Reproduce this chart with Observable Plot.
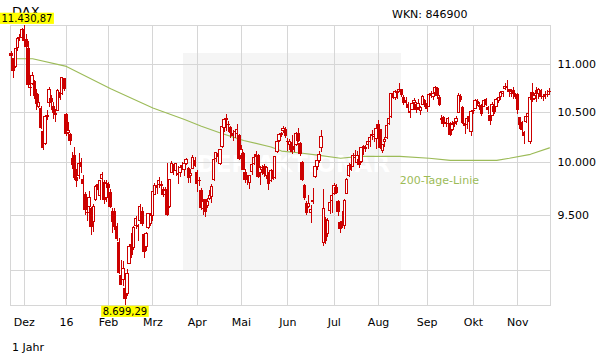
<!DOCTYPE html>
<html><head><meta charset="utf-8">
<script src="https://cdn.jsdelivr.net/npm/d3@7"></script>
<script src="https://cdn.jsdelivr.net/npm/@observablehq/plot@0.6"></script>
<style>body{margin:0;background:#fff;} svg{display:block}</style>
</head><body><div id="chart"></div>
<script>
// DAX daily OHLC, trading days 23.11.2015 – 22.11.2016 (index 0..255)
const open = [
11120,11060,10980,11180,11290,11290,
11380,11270,11170,10760,10800,10820,10690,10560,10540,10300,10180,10460,10600,10640,10560,10480,10520,10700,10690,10850,
10480,10290,10270,10040,10060,9850,9870,10000,9830,9690,9520,9580,9560,9440,9640,9780,9680,9840,9800,9660,
9780,9710,9530,9530,9390,9250,8950,8920,8840,8800,9060,9230,9200,9400,9400,9450,9530,9320,9210,9380,9420,
9490,9690,9770,9780,9780,9740,9690,9740,9580,9900,9960,9920,9880,9900,9970,9930,9990,9940,9870,9940,10020,
9900,9820,9730,9560,9640,9590,9650,9670,9830,10040,10080,9990,10150,10340,10420,10370,10340,10280,10300,10280,10260,
10060,10080,9900,9850,9800,9910,9990,10070,10060,9900,9930,9960,9870,9880,9820,9920,9850,10100,10210,10270,10310,10320,
10200,10170,10190,10150,10170,10280,10180,10000,9770,9600,9580,9520,9620,9860,9960,10020,10140,9250,9460,9330,9540,9630,
9700,9760,9620,9430,9440,9400,9700,9870,9980,9960,10050,10000,10030,10010,10150,10130,10170,10200,10260,10250,10230,
10370,10320,10110,10200,10240,10380,10450,10690,10650,10700,10730,10730,10650,10620,10580,10510,10530,10600,10580,10550,10520,10580,10620,
10590,10560,10690,10660,10700,10740,10650,10420,10440,10390,10380,10380,10320,10380,10400,10500,10660,10550,10380,10370,10450,10300,
10520,10540,10610,10560,10570,10560,10630,10550,10470,10470,10560,10560,10620,10660,10690,10740,10770,10730,10690,10720,10680,
10680,10440,10390,10290,10400,10450,10200,10700,10640,10720,10690,10720,10660,10680,10680,10710];
const high = [
11140,11070,11180,11300,11330,11400,
11430.87,11330,11250,10830,10920,10830,10740,10690,10560,10330,10470,10520,10760,10680,10600,10530,10740,10710,10870,10850,
10490,10400,10290,10100,10150,9930,10090,10040,9880,9710,9570,9720,9570,9600,9780,9830,9830,9900,9830,9830,
9810,9740,9560,9560,9420,9290,9090,9080,8900,9010,9230,9330,9400,9490,9410,9600,9570,9330,9340,9520,9520,
9720,9800,9800,9860,9820,9760,9760,9995,9840,10010,9980,9990,9960,9970,10000,9990,10040,9950,9930,10070,10050,
9920,9860,9750,9650,9650,9660,9730,9790,10040,10100,10110,10130,10360,10440,10480,10410,10360,10320,10330,10380,10280,
10170,10100,9930,9880,9880,10010,10060,10110,10080,9960,9970,9980,9960,9900,9930,9950,10060,10210,10290,10300,10360,10350,
10240,10230,10270,10180,10300,10340,10200,10010,9790,9630,9680,9590,9750,9980,10060,10110,10320,9740,9480,9470,9640,9720,
9800,9790,9640,9440,9530,9650,9850,9990,10000,10090,10120,10110,10060,10150,10170,10170,10200,10260,10320,10300,10340,
10420,10330,10180,10250,10380,10450,10700,10720,10730,10730,10800,10740,10680,10660,10600,10540,10610,10650,10600,10630,10560,10680,10640,
10610,10700,10720,10700,10770,10760,10680,10470,10460,10440,10450,10400,10410,10430,10460,10700,10690,10560,10410,10450,10480,10520,
10560,10640,10640,10600,10580,10640,10650,10560,10480,10600,10570,10650,10660,10720,10720,10800,10830,10740,10740,10760,10700,
10700,10450,10410,10310,10470,10500,10680,10800,10700,10760,10750,10740,10690,10720,10730,10750];
const low = [
11050,10860,10960,11150,11250,11270,
11240,11170,10760,10670,10780,10630,10520,10540,10330,10120,10170,10420,10550,10520,10430,10400,10510,10620,10680,10720,
10260,10230,10170,9930,9830,9760,9840,9890,9680,9500,9440,9560,9310,9340,9630,9700,9640,9740,9600,9620,
9710,9560,9330,9360,9260,8970,8870,8860,8699.29,8780,9050,9110,9180,9370,9260,9440,9400,9110,9170,9370,9400,
9440,9680,9690,9750,9700,9670,9640,9490,9560,9890,9880,9870,9790,9860,9920,9870,9970,9800,9800,9940,9950,
9710,9770,9540,9500,9480,9560,9640,9610,9820,10000,10010,9970,10140,10300,10310,10300,10240,10210,10240,10200,10020,
10000,9920,9800,9780,9740,9880,9970,10030,9850,9780,9880,9860,9840,9730,9810,9830,9840,10090,10200,10250,10290,10240,
10110,10120,10080,10100,10160,10200,10060,9820,9640,9500,9560,9420,9600,9850,9920,9990,10100,9214,9230,9300,9510,9520,
9680,9690,9490,9330,9380,9370,9690,9860,9910,9950,10010,9980,9940,9990,10070,10100,10130,10150,10220,10200,10130,
10300,10130,10090,10150,10230,10370,10440,10630,10620,10640,10710,10660,10570,10580,10500,10440,10520,10570,10490,10520,10470,10570,10550,
10500,10550,10650,10620,10680,10640,10560,10380,10350,10350,10300,10260,10310,10350,10370,10490,10600,10380,10280,10330,10350,10260,
10480,10530,10560,10520,10460,10550,10560,10480,10370,10460,10480,10550,10590,10620,10660,10730,10740,10660,10660,10640,10640,
10480,10330,10300,10175,10390,10420,10174,10600,10620,10600,10640,10640,10610,10640,10660,10680];
const close = [
11092,10933,11169,11285,11293,11382,
11261,11190,10789,10752,10886,10673,10592,10598,10340,10139,10451,10470,10738,10608,10497,10489,10727,10653,10860,10743,
10283,10310,10214,9979,9849,9825,9985,9960,9794,9545,9521,9664,9391,9574,9764,9736,9822,9880,9640,9798,
9757,9581,9434,9393,9286,8980,8879,9017,8752,8967,9206,9135,9378,9463,9389,9573,9416,9167,9331,9513,9495,
9717,9777,9751,9824,9778,9692,9723,9498,9831,9990,9933,9983,9892,9950,9949,9990,10022,9851,9888,10046,9966,
9794,9822,9564,9624,9530,9622,9682,9761,10027,10094,10051,10120,10350,10421,10435,10373,10294,10260,10299,10321,10039,
10123,9926,9828,9852,9870,9980,10045,10059,9862,9952,9952,9891,9943,9796,9916,9842,10057,10205,10272,10286,10333,10263,
10204,10208,10103,10121,10288,10217,10088,9834,9657,9519,9606,9550,9631,9962,10015,10071,10257,9557,9268,9448,9612,9680,
9776,9709,9532,9373,9418,9629,9834,9964,9930,10068,10066,10064,9981,10142,10156,10147,10199,10247,10275,10274,10337,
10330,10144,10170,10228,10367,10432,10692,10651,10713,10713,10739,10677,10603,10603,10544,10495,10592,10622,10530,10587,10545,10657,10593,
10534,10684,10672,10687,10752,10675,10573,10432,10386,10379,10431,10276,10374,10393,10436,10674,10627,10394,10361,10438,10405,10511,
10512,10619,10585,10568,10490,10624,10577,10523,10414,10580,10503,10631,10646,10701,10711,10761,10757,10709,10717,10696,10665,
10526,10370,10325,10259,10456,10482,10646,10630,10667,10693,10735,10664,10663,10664,10685,10713];

// 200-Tage-Linie, read at sampled trading-day indices
const maIdx = [0,10,26,47,67,82,90,99,110,123,128,137,146,156,165,184,198,208,230,236,246,255];
const maVal = [11066,11066,10984,10748,10548,10429,10362,10294,10219,10153,10113,10094,10071,10042,10061,10061,10042,10022,10022,10042,10081,10145];

// axis ticks
const monthIdx = [6,26,46,67,88,109,131,153,174,197,219,240];
const monthLabels = ["Dez","16","Feb","Mrz","Apr","Mai","Jun","Jul","Aug","Sep","Okt","Nov"];
const yTicks = [9000,9500,10000,10500,11000];
const yTickLabels = ["9.000","9.500","10.000","10.500","11.000"];

const W=611, H=364;
const red="#cc0000", green="#9cbb58", gridC="#d6d6d6";
const FONT="'DejaVu Sans', Verdana, sans-serif";
const n = close.length;
const bars = close.map((c,i)=>({i, o:open[i], h:high[i], l:low[i], c}));
const ma = maIdx.map((x,k)=>({x, v:maVal[k]}));
const mLab = new Map(monthIdx.map((d,k)=>[d, monthLabels[k]]));
const yLab = new Map(yTicks.map((d,k)=>[d, yTickLabels[k]]));
const ymin = d3.min(low), ymax = d3.max(high);

const chart = Plot.plot({
  width: W, height: H,
  marginLeft: 10, marginRight: 61, marginTop: 25, marginBottom: 59,
  style: {fontFamily: FONT, fontSize: "11px", color: "#000", background: "#fff"},
  color: {type: "identity"},
  x: {type: "linear", domain: [-0.5, n-0.5], ticks: monthIdx, tickFormat: d=>mLab.get(d), tickSize: 0, tickPadding: 13, label: null},
  y: {type: "log", domain: [ymin, ymax], axis: "right", ticks: yTicks, tickFormat: d=>yLab.get(d), tickSize: 0, tickPadding: 7, label: null},
  marks: [
    Plot.ruleX(monthIdx, {stroke: gridC, shapeRendering: "crispEdges"}),
    Plot.ruleY(yTicks, {stroke: gridC, shapeRendering: "crispEdges"}),
    Plot.frame({stroke: gridC, shapeRendering: "crispEdges"}),
    Plot.line(ma, {x: "x", y: "v", stroke: green, strokeWidth: 1.1}),
    Plot.text(ma.filter(d=>d.x===184), {x: "x", y: "v", text: ()=>"200-Tage-Linie", dy: 24, textAnchor: "start", fill: green, fontSize: 11}),
    Plot.ruleX(bars, {x: "i", y1: "l", y2: "h", stroke: red, strokeWidth: 1, shapeRendering: "crispEdges"}),
    Plot.rect(bars, {x1: d=>d.i-0.58, x2: d=>d.i+0.58, y1: "o", y2: "c", fill: d=>d.c>d.o?"#ffffff":red, stroke: red, strokeWidth: 1, shapeRendering: "crispEdges"})
  ]
});
document.getElementById("chart").append(chart);

// overlays positioned through the chart's scales
const sxd = chart.scale("x"), syd = chart.scale("y");
const xs = d3.scaleLinear(sxd.domain, sxd.range);
const ys = d3.scaleLog(syd.domain, syd.range);
const svg = d3.select(chart);
const de = d3.formatLocale({decimal: ",", thousands: ".", grouping: [3], currency: ["", "€"]});
const fmt2 = de.format(",.2f");

function label(sel, x, y, size, txt) {
  return sel.append("text").attr("x", x).attr("y", y).attr("font-family", FONT).attr("font-size", size)
    .attr("fill", "#000").attr("text-anchor", "start").text(txt);
}

// watermark background (decoration)
const wm = svg.insert("g", "g");
wm.append("rect").attr("x", 183).attr("y", 53).attr("width", 218).attr("height", 217).attr("fill", "#f5f5f5");
wm.append("text").attr("x", 197).attr("y", 172).attr("fill", "#ffffff").attr("font-family", FONT).attr("text-anchor", "start")
  .attr("font-weight", "bold").attr("font-size", 23).attr("textLength", 193).attr("lengthAdjust", "spacingAndGlyphs")
  .text("DER AKTIONÄR");

// headers
label(svg, 12, 16, 13, "DAX");
label(svg, 392, 18, 11, "WKN: 846900");
label(svg, 12, 351, 11, "1 Jahr");

// min / max labels
function tag(idx, val, top) {
  const g = svg.append("g");
  const t = label(g, 0, 0, 10, fmt2(val));
  const tw = t.node().getComputedTextLength();
  const w = tw + 3;
  let bx = xs(idx) - w/2;
  bx = Math.max(0, Math.min(W - w, bx));
  const by = top ? ys(val) - 12.3 : ys(val) + 0.7;
  g.insert("rect", "text").attr("x", bx).attr("y", by).attr("width", w).attr("height", 11.2).attr("fill", "#ffff00");
  t.attr("x", bx + 1.5).attr("y", by + 9.3);
}
tag(high.indexOf(ymax), ymax, true);
tag(low.indexOf(ymin), ymin, false);
</script>
</body></html>
